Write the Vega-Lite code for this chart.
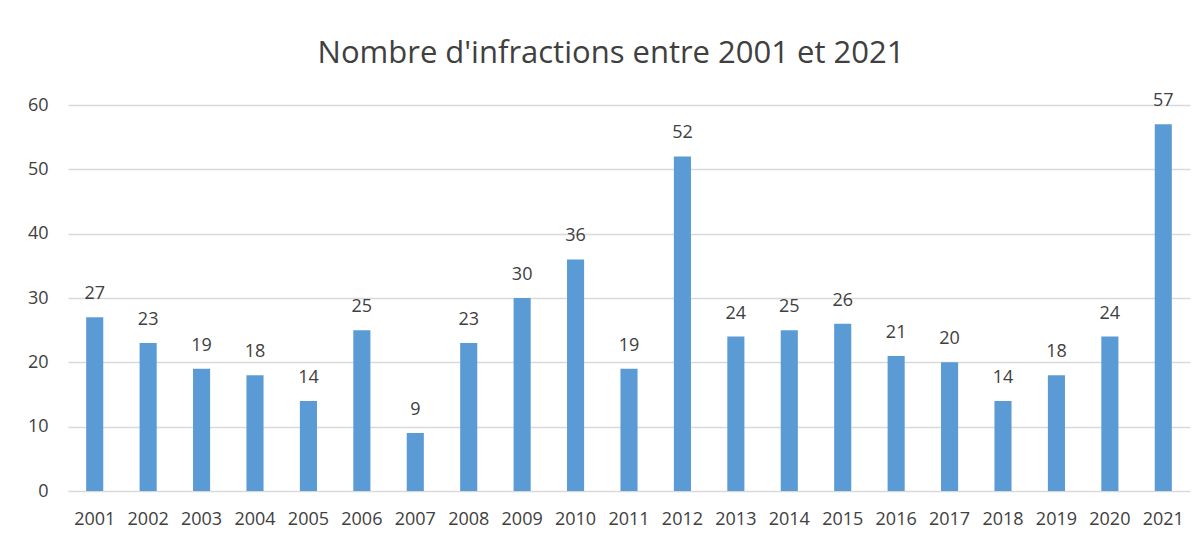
{
  "$schema": "https://vega.github.io/schema/vega-lite/v6.json",
  "width": 1122,
  "height": 386,
  "autosize": "none",
  "padding": {"left": 68, "top": 105, "right": 12, "bottom": 49},
  "background": "white",
  "title": {
    "text": "Nombre d'infractions entre 2001 et 2021",
    "font": "Open Sans",
    "fontSize": 31,
    "fontWeight": "normal",
    "color": "#404040",
    "anchor": "middle",
    "dx": -18,
    "offset": 22
  },
  "data": {
    "values": [
      {"annee": "2001", "n": 27},
      {"annee": "2002", "n": 23},
      {"annee": "2003", "n": 19},
      {"annee": "2004", "n": 18},
      {"annee": "2005", "n": 14},
      {"annee": "2006", "n": 25},
      {"annee": "2007", "n": 9},
      {"annee": "2008", "n": 23},
      {"annee": "2009", "n": 30},
      {"annee": "2010", "n": 36},
      {"annee": "2011", "n": 19},
      {"annee": "2012", "n": 52},
      {"annee": "2013", "n": 24},
      {"annee": "2014", "n": 25},
      {"annee": "2015", "n": 26},
      {"annee": "2016", "n": 21},
      {"annee": "2017", "n": 20},
      {"annee": "2018", "n": 14},
      {"annee": "2019", "n": 18},
      {"annee": "2020", "n": 24},
      {"annee": "2021", "n": 57}
    ]
  },
  "encoding": {
    "x": {
      "field": "annee",
      "type": "ordinal",
      "scale": {"paddingInner": 0.68, "paddingOuter": 0.34},
      "axis": {
        "title": null,
        "labelAngle": 0,
        "labelFont": "Open Sans",
        "labelFontSize": 18,
        "labelColor": "#404040",
        "labelPadding": 19,
        "ticks": false,
        "domain": false
      }
    },
    "y": {
      "field": "n",
      "type": "quantitative",
      "scale": {"domain": [0, 60], "nice": false},
      "axis": {
        "title": null,
        "values": [0, 10, 20, 30, 40, 50, 60],
        "labelFont": "Open Sans",
        "labelFontSize": 18,
        "labelColor": "#404040",
        "labelPadding": 20,
        "ticks": false,
        "domain": false,
        "grid": true,
        "gridColor": "#D9D9D9",
        "gridWidth": 1.5
      }
    }
  },
  "layer": [
    {"mark": {"type": "bar", "color": "#5B9BD5"}},
    {
      "mark": {
        "type": "text",
        "font": "Open Sans",
        "fontSize": 18,
        "color": "#404040",
        "baseline": "alphabetic",
        "dy": -18
      },
      "encoding": {"text": {"field": "n", "type": "quantitative"}}
    }
  ],
  "config": {"view": {"stroke": null}}
}
